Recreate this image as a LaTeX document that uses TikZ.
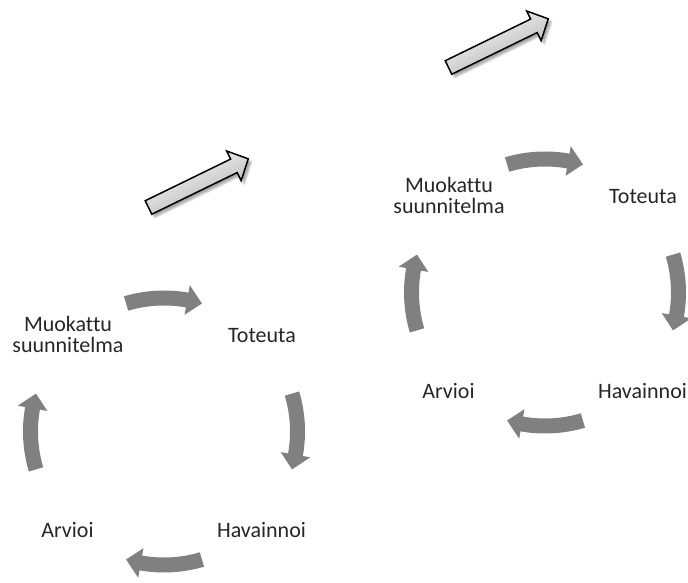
\documentclass[tikz,border=0pt]{standalone}
\usepackage{fontspec}
\setmainfont{Carlito}[Ligatures=NoCommon]
\usetikzlibrary{calc,shadows.blur}
\definecolor{cyclegray}{HTML}{808080}
\definecolor{labelink}{HTML}{262626}

% curved cycle arrow: #1 = centre coordinate, #2 = angle of the arrow's middle
\newcommand\cyclearc[2]{%
  \fill[cyclegray,shift={(#1)}]
    (#2+16.5:141) arc[start angle=#2+16.5, end angle=#2-10, radius=141]
    -- (#2-10:148.5) -- (#2-16.5:133.5) -- (#2-10:118.5) -- (#2-10:126)
    arc[start angle=#2-10, end angle=#2+16.5, radius=126] -- cycle;}

\begin{document}
\begin{tikzpicture}[x=1pt,y=1pt,
  cyclelabel/.style={font=\fontsize{22}{21}\selectfont, text=labelink, align=center, inner sep=0pt},
  bigarrow/.style={draw=black, line width=1.5pt, line join=miter,
    top color=white, bottom color=black!32, shading angle=26,
    blur shadow={shadow xshift=3pt, shadow yshift=-3pt, shadow opacity=35, shadow blur steps=6}}
]
\useasboundingbox (0,0) rectangle (688,583);

% cycle centres
\coordinate (c1) at (164,151.5);
\coordinate (c2) at (545,290.5);

% block arrows between the two cycles
\coordinate (b1) at (148.5,375.5);
\coordinate (b2) at (448.5,515.5);
\foreach \b in {b1,b2}{
  \begin{scope}[shift={(\b)}, rotate=26]
    \path[bigarrow] (0,-7.5) -- (95,-7.5) -- (95,-16.5) -- (111,0)
      -- (95,16.5) -- (95,7.5) -- (0,7.5) -- cycle;
  \end{scope}
}

% first cycle
\node[cyclelabel] (m1) at ([shift={(-96,97)}]c1) {Muokattu\\suunnitelma};
\node[cyclelabel] (t1) at ([shift={(98,96)}]c1) {Toteuta};
\node[cyclelabel] (h1) at ([shift={(97.5,-98.5)}]c1) {Havainnoi};
\node[cyclelabel] (a1) at ([shift={(-96.5,-98.5)}]c1) {Arvioi};
\cyclearc{c1}{90}
\cyclearc{c1}{0}
\cyclearc{c1}{-90}
\cyclearc{c1}{180}

% second cycle
\node[cyclelabel] (m2) at ([shift={(-96,97)}]c2) {Muokattu\\suunnitelma};
\node[cyclelabel] (t2) at ([shift={(98,96)}]c2) {Toteuta};
\node[cyclelabel] (h2) at ([shift={(97.5,-98.5)}]c2) {Havainnoi};
\node[cyclelabel] (a2) at ([shift={(-96.5,-98.5)}]c2) {Arvioi};
\cyclearc{c2}{90}
\cyclearc{c2}{0}
\cyclearc{c2}{-90}
\cyclearc{c2}{180}
\end{tikzpicture}
\end{document}
